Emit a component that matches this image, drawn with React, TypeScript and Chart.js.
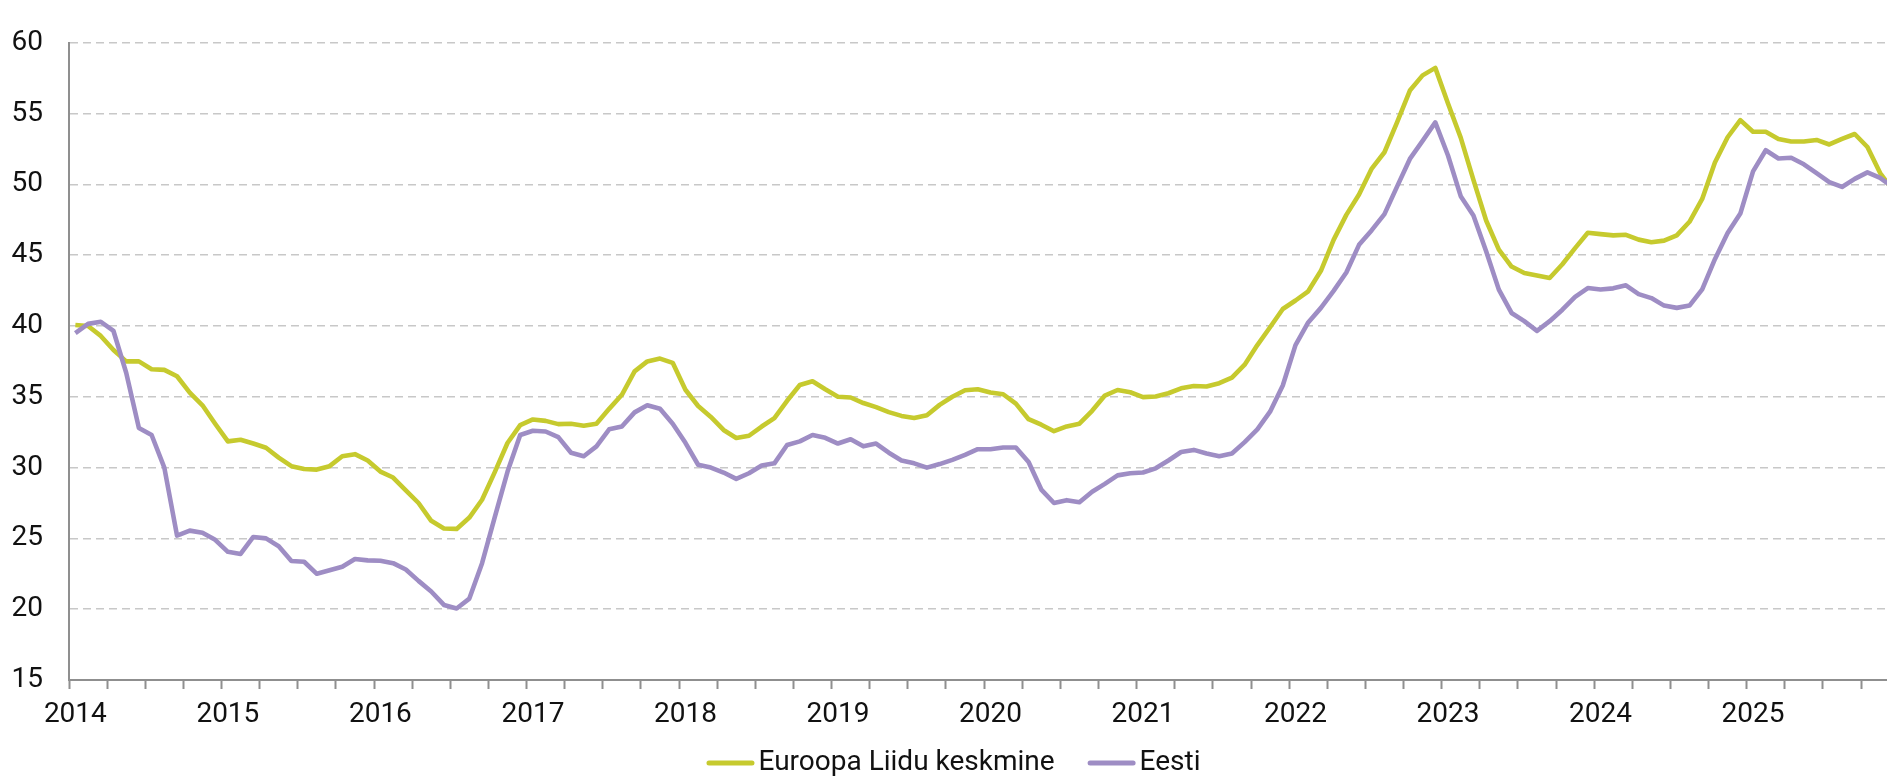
import React, { useEffect, useRef } from "react";
import { Chart, registerables } from "chart.js";

Chart.register(...registerables);

// Years shown on the x axis (monthly data, Jan 2014 – Dec 2025)
const years = [2014, 2015, 2016, 2017, 2018, 2019, 2020, 2021, 2022, 2023, 2024, 2025];
const monthNumbers = ["01", "02", "03", "04", "05", "06", "07", "08", "09", "10", "11", "12"];
const categories: string[] = years.flatMap((y) => monthNumbers.map((m) => `${y}-${m}`));

const seriesLabels = ["Euroopa Liidu keskmine", "Eesti"];

// Euroopa Liidu keskmine
const euValues = [
  40.07, 40.0, 39.3, 38.3, 37.5, 37.5, 36.95, 36.9, 36.45, 35.3, 34.4, 33.1,
  31.85, 31.97, 31.7, 31.4, 30.7, 30.1, 29.9, 29.86, 30.1, 30.8, 30.95, 30.5,
  29.72, 29.3, 28.4, 27.5, 26.24, 25.7, 25.67, 26.47, 27.73, 29.68, 31.74, 33.0,
  33.4, 33.3, 33.07, 33.1, 32.96, 33.1, 34.15, 35.14, 36.8, 37.5, 37.7, 37.4,
  35.5, 34.35, 33.58, 32.66, 32.09, 32.25, 32.9, 33.5, 34.72, 35.83, 36.1, 35.53,
  35.0, 34.95, 34.56, 34.27, 33.92, 33.65, 33.5, 33.7, 34.43, 35.0, 35.46, 35.53,
  35.3, 35.18, 34.52, 33.42, 33.03, 32.57, 32.91, 33.1, 34.01, 35.09, 35.48, 35.32,
  34.98, 35.02, 35.25, 35.6, 35.76, 35.73, 35.96, 36.35, 37.27, 38.65, 39.91, 41.2,
  41.8, 42.45, 43.9, 46.08, 47.85, 49.29, 51.12, 52.27, 54.4, 56.63, 57.7, 58.23,
  55.71, 53.3, 50.32, 47.45, 45.39, 44.2, 43.74, 43.56, 43.39, 44.36, 45.5, 46.58,
  46.49, 46.4, 46.44, 46.1, 45.92, 46.03, 46.4, 47.36, 48.97, 51.54, 53.33, 54.54,
  53.72, 53.72, 53.21, 53.03, 53.03, 53.14, 52.82, 53.21, 53.56, 52.64, 50.8, 49.6,
];

// Eesti
const estoniaValues = [
  39.5, 40.15, 40.3, 39.65, 36.7, 32.8, 32.3, 30.0, 25.2, 25.55, 25.4, 24.9,
  24.05, 23.9, 25.1, 25.0, 24.45, 23.4, 23.35, 22.5, 22.75, 23.0, 23.55, 23.45,
  23.42, 23.25, 22.8, 22.0, 21.25, 20.3, 20.05, 20.75, 23.25, 26.5, 29.7, 32.3,
  32.6, 32.55, 32.15, 31.05, 30.8, 31.5, 32.7, 32.9, 33.9, 34.4, 34.15, 33.1,
  31.75, 30.2, 30.0, 29.65, 29.2, 29.6, 30.15, 30.3, 31.6, 31.85, 32.3, 32.1,
  31.7, 32.0, 31.5, 31.7, 31.05, 30.5, 30.3, 30.0, 30.25, 30.55, 30.9, 31.3,
  31.3, 31.42, 31.42, 30.4, 28.45, 27.5, 27.7, 27.55, 28.3, 28.85, 29.45, 29.6,
  29.65, 29.95, 30.5, 31.1, 31.25, 31.0, 30.8, 31.0, 31.8, 32.7, 33.95, 35.8,
  38.65, 40.25, 41.28, 42.48, 43.78, 45.73, 46.77, 47.9, 49.86, 51.8, 53.07, 54.38,
  52.04, 49.17, 47.8, 45.28, 42.57, 40.92, 40.34, 39.66, 40.34, 41.15, 42.06, 42.68,
  42.58, 42.66, 42.87, 42.25, 41.97, 41.44, 41.28, 41.44, 42.59, 44.72, 46.56, 47.94,
  50.92, 52.41, 51.83, 51.88, 51.42, 50.8, 50.16, 49.82, 50.39, 50.85, 50.46, 49.8,
];

const yMin = 15;
const yMax = 60;
const yStep = 5;

const GREEN = "rgb(198, 202, 46)";
const PURPLE = "rgb(158, 141, 196)";
const AXIS_GREY = "#8f8f8f";
const GRID_GREY = "#c8c8c8";
const TEXT = "#111111";
const FONT_FAMILY = "Roboto, 'Noto Sans', sans-serif";
const FONT_SIZE = 28;

const CANVAS_W = 1907;
const CANVAS_H = 776;
const LEGEND_Y = 763;

const legendPlugin = {
  id: "customLegend",
  afterDraw(chart: any) {
    const ctx = chart.ctx as CanvasRenderingContext2D;
    ctx.save();
    ctx.font = `${FONT_SIZE}px ${FONT_FAMILY}`;
    const items = chart.data.datasets.map((ds: any) => ({ text: ds.label, color: ds.borderColor }));
    const lineW = 48;
    const gap = 4;
    const itemGap = 33;
    const widths = items.map((it: any) => lineW + gap + ctx.measureText(it.text).width);
    const total = widths.reduce((a: number, b: number) => a + b, 0) + itemGap * (items.length - 1);
    let x = chart.width / 2 - total / 2;
    items.forEach((it: any, i: number) => {
      ctx.strokeStyle = it.color;
      ctx.lineWidth = 5;
      ctx.lineCap = "round";
      ctx.beginPath();
      ctx.moveTo(x + 2.5, LEGEND_Y);
      ctx.lineTo(x + lineW - 2.5, LEGEND_Y);
      ctx.stroke();
      ctx.fillStyle = TEXT;
      ctx.textBaseline = "middle";
      ctx.textAlign = "left";
      ctx.fillText(it.text, x + lineW + gap, LEGEND_Y);
      x += widths[i] + itemGap;
    });
    ctx.restore();
  },
};

export default function App() {
  const canvasRef = useRef<HTMLCanvasElement | null>(null);

  useEffect(() => {
    if (!canvasRef.current) return;
    const chart = new Chart(canvasRef.current, {
      type: "line",
      data: {
        labels: categories,
        datasets: [
          {
            label: seriesLabels[0],
            data: euValues,
            borderColor: GREEN,
            backgroundColor: GREEN,
            borderWidth: 4.6,
            pointRadius: 0,
            tension: 0,
            borderJoinStyle: "round",
            order: 1,
          },
          {
            label: seriesLabels[1],
            data: estoniaValues,
            borderColor: PURPLE,
            backgroundColor: PURPLE,
            borderWidth: 4.6,
            pointRadius: 0,
            tension: 0,
            borderJoinStyle: "round",
            order: 0,
          },
        ],
      },
      options: {
        responsive: false,
        maintainAspectRatio: false,
        animation: false,
        devicePixelRatio: 1,
        layout: { padding: { left: 0, top: 26, right: 7.8, bottom: 36 } },
        plugins: {
          legend: { display: false },
          tooltip: { enabled: false },
        },
        scales: {
          x: {
            type: "category",
            offset: true,
            grid: {
              display: true,
              offset: true,
              drawOnChartArea: false,
              drawTicks: true,
              tickLength: 9,
              tickWidth: 2,
              tickColor: (c: any) => (c.index % 3 === 0 ? AXIS_GREY : "rgba(0,0,0,0)"),
            },
            border: { display: true, color: AXIS_GREY, width: 2 },
            ticks: {
              autoSkip: false,
              maxRotation: 0,
              minRotation: 0,
              padding: 9,
              color: TEXT,
              font: { family: FONT_FAMILY, size: FONT_SIZE },
              callback: (_v: any, i: number) => (i % 12 === 0 ? String(years[i / 12]) : ""),
            },
            afterFit: (scale: any) => {
              scale.height = 60;
            },
          },
          y: {
            min: yMin,
            max: yMax,
            grid: {
              display: true,
              drawTicks: false,
              color: GRID_GREY,
              lineWidth: 1.5,
            },
            border: { display: true, color: AXIS_GREY, width: 2, dash: [8, 5] },
            ticks: {
              stepSize: yStep,
              padding: 26,
              color: TEXT,
              font: { family: FONT_FAMILY, size: FONT_SIZE },
            },
            afterFit: (scale: any) => {
              scale.width = 69;
            },
          },
        },
      },
      plugins: [legendPlugin],
    });
    return () => chart.destroy();
  }, []);

  return (
    <div
      style={{
        position: "fixed",
        left: 0,
        top: 0,
        width: "100vw",
        height: "100vh",
        overflow: "hidden",
        background: "#fff",
      }}
    >
      <canvas
        ref={canvasRef}
        width={CANVAS_W}
        height={CANVAS_H}
        style={{ display: "block", width: CANVAS_W, height: CANVAS_H }}
      />
    </div>
  );
}
